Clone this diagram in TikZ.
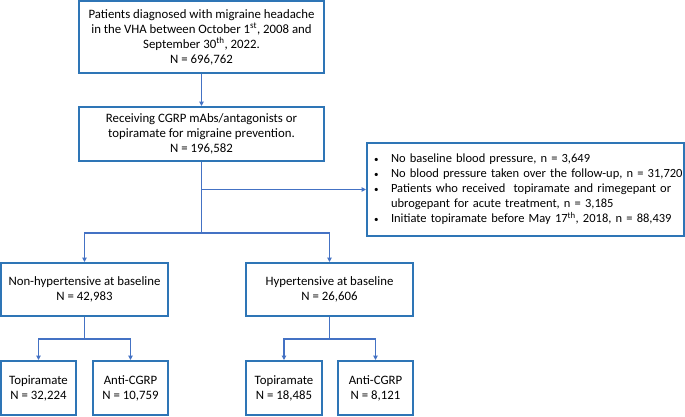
\documentclass[tikz,border=0pt]{standalone}
\usepackage{fontspec}
\setmainfont{Carlito}
\usetikzlibrary{arrows.meta}
\definecolor{boxblue}{RGB}{46,117,182}
\definecolor{lineblue}{RGB}{68,114,196}
\newcommand{\smallbul}{{\fontsize{9}{9}\selectfont •}}
\begin{document}
\begin{tikzpicture}[x=1pt,y=-1pt,
  box/.style={draw=boxblue, line width=2pt, align=center, inner sep=0pt,
    font=\fontsize{12.8}{15}\selectfont},
  conn/.style={draw=lineblue, line width=1.4pt},
  arr/.style={conn, -{Triangle[length=4.5pt,width=4.5pt]}}]
\useasboundingbox (0,0) rectangle (685,416);
\node[box, minimum width=245pt, minimum height=72pt] (b1) at (201.5,37)
  {Patients diagnosed with migraine headache\\in the VHA between October 1\textsuperscript{st}, 2008 and\\September 30\textsuperscript{th}, 2022.\\N = 696,762};
\node[box, minimum width=245pt, minimum height=54pt] (b2) at (201.5,134)
  {Receiving CGRP mAbs/antagonists or\\topiramate for migraine prevention.\\N = 196,582};
\node[box, minimum width=317pt, minimum height=93pt, text width=317pt, inner sep=0pt, align=left,
  font=\fontsize{12.5}{15}\selectfont] (ex) at (525.5,189.5)
  {\begin{tabular}{@{\hspace{7pt}}p{17pt}@{}l@{}}
   \smallbul & No baseline blood pressure, n = 3,649\\
   \smallbul & No blood pressure taken over the follow-up, n = 31,720\\
   \smallbul & Patients who received\ \ topiramate and rimegepant or\\
     & ubrogepant for acute treatment, n = 3,185\\
   \smallbul & Initiate topiramate before May 17\textsuperscript{th}, 2018, n = 88,439
   \end{tabular}};
\node[box, minimum width=167pt, minimum height=53pt] (nh) at (84.5,289.5)
  {Non-hypertensive at baseline\\N = 42,983};
\node[box, minimum width=167pt, minimum height=53pt] (hy) at (329.5,289.5)
  {Hypertensive at baseline\\N = 26,606};
\node[box, minimum width=75pt, minimum height=54pt] (t1) at (38.5,388)
  {Topiramate\\N = 32,224};
\node[box, minimum width=75pt, minimum height=54pt] (a1) at (130.5,388)
  {Anti-CGRP\\N = 10,759};
\node[box, minimum width=76pt, minimum height=54pt] (t2) at (284,388)
  {Topiramate\\N = 18,485};
\node[box, minimum width=75pt, minimum height=54pt] (a2) at (375.5,388)
  {Anti-CGRP\\N = 8,121};
\coordinate (j1) at (201.5,189.5);
\coordinate (j2) at (201.5,233);
\coordinate (j3) at (84.5,339);
\coordinate (j4) at (329.5,339);
\draw[arr] (b1) -- (b2);
\draw[conn] (b2.south) -- (j2);
\draw[arr] (j1) -- (ex.west);
\draw[arr] (j2) -| (nh.north);
\draw[arr] (j2) -| (hy.north);
\draw[conn] (nh.south) -- (j3);
\draw[arr] (j3) -| (t1.north);
\draw[arr] (j3) -| (a1.north);
\draw[conn] (hy.south) -- (j4);
\draw[arr] (j4) -| (t2.north);
\draw[arr] (j4) -| (a2.north);
\end{tikzpicture}
\end{document}
